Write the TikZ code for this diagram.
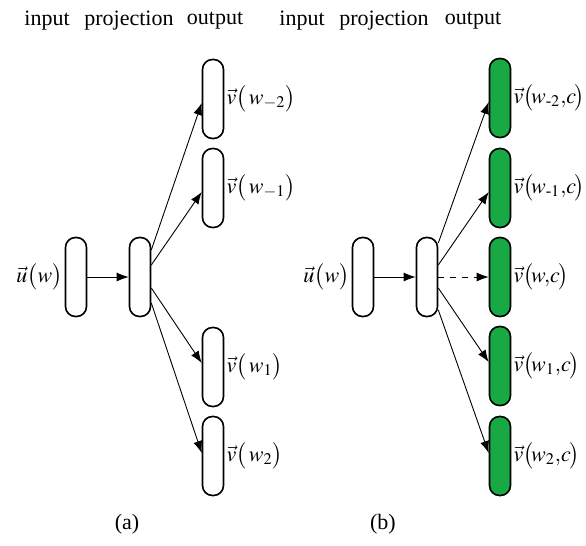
\documentclass[tikz,border=0pt]{standalone}
\usepackage{amsmath}
\usepackage{mathptmx}
\usepackage{fontspec}
\setmainfont{Liberation Serif}
\definecolor{vecgreen}{RGB}{24,168,68}
\usetikzlibrary{arrows.meta,positioning}
\tikzset{
  vbox/.style={draw,line width=0.8pt,rounded corners=5pt,minimum width=10.5pt,minimum height=39.5pt,inner sep=0pt},
  gbox/.style={vbox,fill=vecgreen},
  link/.style={-{Latex[length=6pt,width=4.5pt]},line width=0.45pt},
  vlabel/.style={anchor=west,inner sep=1pt},
  head/.style={font=\fontsize{11}{13}\selectfont}
}
\newcommand{\sm}{\text{-}}
\begin{document}
\begin{tikzpicture}[x=0.5pt,y=-0.5pt]
  \useasboundingbox (0,0) rectangle (586,546);
  \fontsize{11}{13}\selectfont
  % (a)
  \node[head] (ta1) at (47,21) {input};
  \node[head] (ta2) at (129,21) {projection};
  \node[head] (ta3) at (215,21) {output};

  \node[vbox] (ain) at (76,277) {};
  \node[vbox] (apr) at (140,277) {};
  \node[vbox] (ao1) at (213,99) {};
  \node[vbox] (ao2) at (213,188) {};
  \node[vbox] (ao3) at (213,367) {};
  \node[vbox] (ao4) at (213,456) {};

  \node[anchor=east,inner sep=1pt] (ainl) at (ain.west) {$\vec{u}\big(w\big)$};
  \node[vlabel] (al1) at (ao1.east) {$\vec{v}\big(\,w_{-2}\big)$};
  \node[vlabel] (al2) at (ao2.east) {$\vec{v}\big(\,w_{-1}\big)$};
  \node[vlabel] (al3) at (ao3.east) {$\vec{v}\big(\,w_{1}\big)$};
  \node[vlabel] (al4) at (ao4.east) {$\vec{v}\big(\,w_{2}\big)$};

  \draw[link] (ain) -- (apr);
  \draw[link] ([yshift=13.5pt]apr.east) -- ([yshift=-2pt]ao1.west);
  \draw[link] ([yshift=6pt]apr.east) -- ([yshift=-2pt]ao2.west);
  \draw[link] ([yshift=-5.5pt]apr.east) -- ([yshift=2pt]ao3.west);
  \draw[link] ([yshift=-13pt]apr.east) -- ([yshift=1.5pt]ao4.west);

  \node[head] (capa) at (127,524) {(a)};

  % (b)
  \node[head] (tb1) at (302,21) {input};
  \node[head] (tb2) at (384,21) {projection};
  \node[head] (tb3) at (473,21) {output};

  \node[vbox] (bin) at (363,277) {};
  \node[vbox] (bpr) at (427,277) {};
  \node[gbox] (bo1) at (500,98) {};
  \node[gbox] (bo2) at (500,188) {};
  \node[gbox] (bo3) at (500,277) {};
  \node[gbox] (bo4) at (500,366) {};
  \node[gbox] (bo5) at (500,456) {};

  \node[anchor=east,inner sep=1pt] (binl) at (bin.west) {$\vec{u}\big(w\big)$};
  \node[vlabel] (bl1) at (bo1.east) {$\vec{v}\big(\mkern-2mu w_{\sm2},\!c\mkern-1mu\big)$};
  \node[vlabel] (bl2) at (bo2.east) {$\vec{v}\big(\mkern-2mu w_{\sm1},\!c\mkern-1mu\big)$};
  \node[vlabel] (bl3) at (bo3.east) {$\vec{v}\big(\mkern-2mu w,\!c\mkern-1mu\big)$};
  \node[vlabel] (bl4) at (bo4.east) {$\vec{v}\big(\mkern-2mu w_{1},\!c\mkern-1mu\big)$};
  \node[vlabel] (bl5) at (bo5.east) {$\vec{v}\big(\mkern-2mu w_{2},\!c\mkern-1mu\big)$};

  \draw[link] (bin) -- (bpr);
  \draw[link] ([yshift=17pt]bpr.east) -- ([yshift=-2pt]bo1.west);
  \draw[link] ([yshift=6pt]bpr.east) -- ([yshift=-2pt]bo2.west);
  \draw[link,dashed] (bpr) -- (bo3);
  \draw[link] ([yshift=-5.5pt]bpr.east) -- ([yshift=2pt]bo4.west);
  \draw[link] ([yshift=-16.5pt]bpr.east) -- ([yshift=1.5pt]bo5.west);

  \node[head] (capb) at (383,524) {(b)};
\end{tikzpicture}
\end{document}
